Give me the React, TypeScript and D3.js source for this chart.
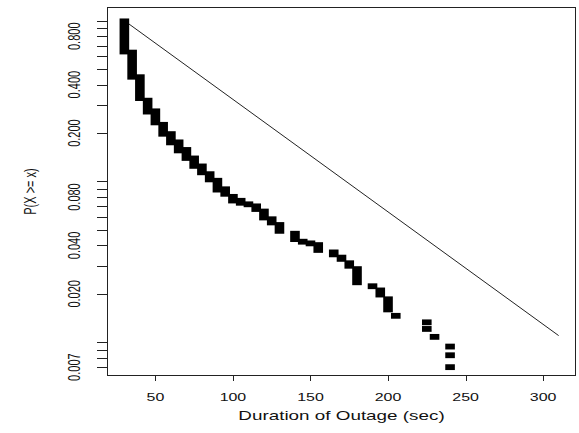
import { useEffect, useRef } from "react";
import * as d3 from "d3";

// stacked points (tied durations) : top / bottom P(X >= x) of each run
const stackX = [30, 35, 40, 45, 50, 55, 60, 65, 70, 75, 80, 85, 90, 95, 100, 105, 110, 115, 120, 125, 130, 140, 145, 150, 155, 165, 170, 175, 180, 190, 195, 200, 205];
const stackTop = [0.99, 0.633, 0.445, 0.318, 0.273, 0.225, 0.197, 0.175, 0.157, 0.139, 0.124, 0.111, 0.101, 0.0894, 0.0802, 0.0758, 0.0721, 0.07, 0.065, 0.0582, 0.0536, 0.0473, 0.0422, 0.0412, 0.0402, 0.0362, 0.0336, 0.031, 0.0285, 0.0223, 0.021, 0.0185, 0.0146];
const stackBottom = [0.643, 0.448, 0.33, 0.272, 0.233, 0.198, 0.175, 0.156, 0.14, 0.125, 0.114, 0.103, 0.089, 0.0838, 0.0761, 0.0737, 0.0721, 0.0674, 0.0597, 0.0556, 0.0493, 0.0438, 0.0422, 0.0412, 0.0375, 0.0352, 0.033, 0.0299, 0.0236, 0.0223, 0.0198, 0.016, 0.0146];

// tail points
const tailX = [225, 225, 230, 240, 240, 240];
const tailY = [0.0133, 0.0121, 0.0108, 0.0094, 0.0083, 0.007];

// reference line
const lineX = [30, 310];
const lineY = [1.0, 0.011];

const xTicks = [50, 100, 150, 200, 250, 300];
const yTicks = [1, 0.9, 0.8, 0.7, 0.6, 0.5, 0.4, 0.3, 0.2, 0.1, 0.09, 0.08, 0.07, 0.06, 0.05, 0.04, 0.03, 0.02, 0.01, 0.009, 0.008, 0.007];
const yLabels = [0.8, 0.4, 0.2, 0.08, 0.04, 0.02, 0.007];

const xlim = [30, 310];
const ylim = [0.0075, 1];

const W = 579;
const H = 433;
const FONT = "'Liberation Sans', Arial, Helvetica, sans-serif";
const STRETCH = 1.45;

export default function App() {
  const ref = useRef<SVGSVGElement | null>(null);

  useEffect(() => {
    const svg = d3.select(ref.current!);
    svg.selectAll("*").remove();

    const left = 107, right = 576, top = 7, bottom = 376;

    // R style 4% extension
    const dx = (xlim[1] - xlim[0]) * 0.04;
    const x = d3.scaleLinear().domain([xlim[0] - dx, xlim[1] + dx]).range([left, right]);
    const ly = [Math.log10(ylim[0]), Math.log10(ylim[1])];
    const dy = (ly[1] - ly[0]) * 0.04;
    const y = d3
      .scaleLog()
      .domain([Math.pow(10, ly[0] - dy), Math.pow(10, ly[1] + dy)])
      .range([bottom, top]);

    const ptW = 9.6, ptH = 5.8;

    // line
    const line = d3
      .line<number>()
      .x((_, i) => x(lineX[i]))
      .y((d) => y(d));
    svg
      .append("path")
      .attr("d", line(lineY))
      .attr("fill", "none")
      .attr("stroke", "#222")
      .attr("stroke-width", 1);

    // stacks
    svg
      .append("g")
      .selectAll("rect")
      .data(stackX)
      .join("rect")
      .attr("x", (d) => x(d) - ptW / 2)
      .attr("y", (_, i) => y(stackTop[i]) - ptH / 2)
      .attr("width", ptW)
      .attr("height", (_, i) => y(stackBottom[i]) - y(stackTop[i]) + ptH)
      .attr("fill", "#000");

    svg
      .append("g")
      .selectAll("rect")
      .data(tailX)
      .join("rect")
      .attr("x", (d) => x(d) - ptW / 2)
      .attr("y", (_, i) => y(tailY[i]) - ptH / 2)
      .attr("width", ptW)
      .attr("height", ptH)
      .attr("fill", "#000");

    // box
    svg
      .append("rect")
      .attr("x", left + 0.5)
      .attr("y", top + 0.5)
      .attr("width", right - left - 1)
      .attr("height", bottom - top - 1)
      .attr("fill", "none")
      .attr("stroke", "#222")
      .attr("stroke-width", 1);

    // x axis
    const gx = svg.append("g");
    gx.selectAll("line")
      .data(xTicks)
      .join("line")
      .attr("x1", (d) => Math.round(x(d)) + 0.5)
      .attr("x2", (d) => Math.round(x(d)) + 0.5)
      .attr("y1", bottom)
      .attr("y2", bottom + 5)
      .attr("stroke", "#222");
    gx.selectAll("text")
      .data(xTicks)
      .join("text")
      .attr("transform", (d) => `translate(${x(d)},${401}) scale(${STRETCH},1)`)
      .attr("text-anchor", "middle")
      .style("font", `11px ${FONT}`)
      .style("fill", "#111")
      .text((d) => d);

    // y axis
    const gy = svg.append("g");
    gy.selectAll("line")
      .data(yTicks)
      .join("line")
      .attr("x1", left - 10)
      .attr("x2", left)
      .attr("y1", (d) => Math.round(y(d)) + 0.5)
      .attr("y2", (d) => Math.round(y(d)) + 0.5)
      .attr("stroke", "#222");
    gy.selectAll("text")
      .data(yLabels)
      .join("text")
      .attr("transform", (d) => `translate(80,${y(d)}) scale(${STRETCH},1) rotate(-90)`)
      .attr("text-anchor", "middle")
      .style("font", `11px ${FONT}`)
      .style("fill", "#111")
      .text((d) => d.toFixed(3));

    // titles
    svg
      .append("text")
      .attr("transform", `translate(${(left + right) / 2},${420}) scale(${STRETCH},1)`)
      .attr("text-anchor", "middle")
      .style("font", `13px ${FONT}`)
      .style("fill", "#111")
      .text("Duration of Outage (sec)");

    svg
      .append("text")
      .attr("transform", `translate(36,${(top + bottom) / 2}) scale(${STRETCH},1) rotate(-90)`)
      .attr("text-anchor", "middle")
      .style("font", `11px ${FONT}`)
      .style("fill", "#111")
      .text("P(X >= x)");
  }, []);

  return (
    <svg
      ref={ref}
      width={W}
      height={H}
      style={{ position: "absolute", left: 0, top: 0, background: "#fff" }}
    />
  );
}
